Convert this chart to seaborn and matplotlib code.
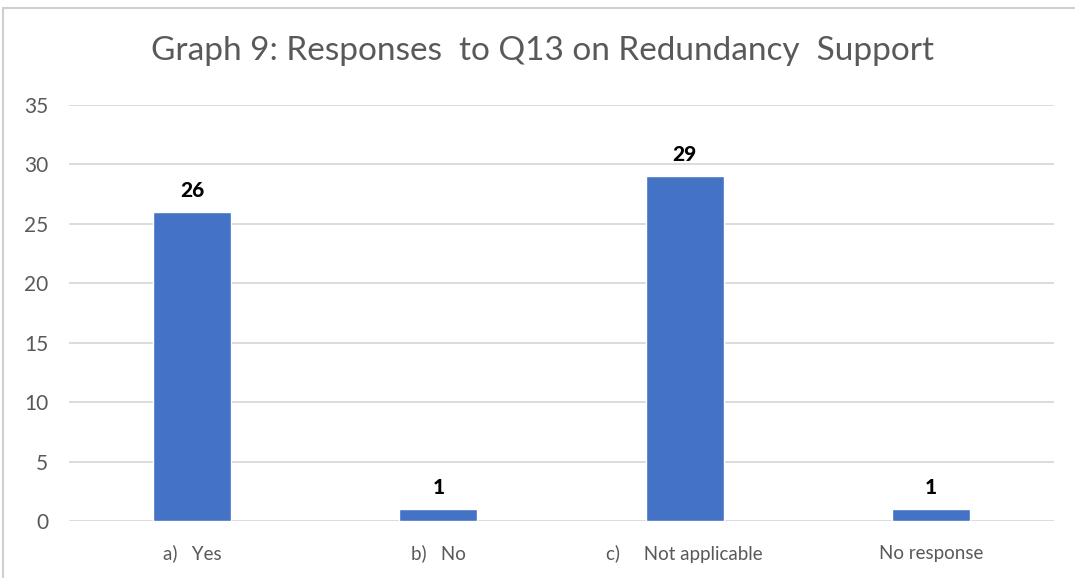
import matplotlib
matplotlib.use("Agg")
import matplotlib.pyplot as plt
import seaborn as sns
import pandas as pd
from matplotlib.patches import Rectangle

categories = ["a)   Yes", "b)   No", "c)     Not applicable", "No response"]
values = [26, 1, 29, 1]
yticks = [0, 5, 10, 15, 20, 25, 30, 35]
title = "Graph 9: Responses  to Q13 on Redundancy  Support"

sns.set_theme(style="white")
plt.rcParams['font.family'] = ['Lato', 'DejaVu Sans']

df = pd.DataFrame({"cat": categories, "val": values})

fig = plt.figure(figsize=(10.75, 5.78), dpi=100)
ax = fig.add_axes([0.0642, 0.0986, 0.9163, 0.7197])

sns.barplot(data=df, x="cat", y="val", color="#4472C4", saturation=1,
            width=0.316, ax=ax, zorder=3)

ax.set_ylim(0, 35)
ax.set_yticks(yticks)
ax.set_xlim(-0.5, len(categories) - 0.5)
ax.grid(axis="y", color="#d9d9d9", linewidth=1.3, zorder=0)
ax.set_axisbelow(True)
for s in ax.spines.values():
    s.set_visible(False)
ax.set_xlabel("")
ax.set_ylabel("")
ax.tick_params(axis="y", labelsize=15, colors="#595959", length=0, pad=15)
ax.tick_params(axis="x", labelsize=13.5, colors="#595959", length=0, pad=17)

for i, v in enumerate(values):
    ax.text(i, v + 1.0, str(v), ha="center", va="bottom", fontsize=15,
            fontweight="black", color="black")

fig.text(0.505, 0.912, title, ha="center", va="center", fontsize=24,
         color="#595959")

fig.patches.append(Rectangle((3/1075, -0.1), 1.2, (578 - 8) / 578 + 0.1,
                             transform=fig.transFigure, fill=False,
                             edgecolor="#d0d0d0", linewidth=1.5))

fig.savefig("out.png", dpi=100)
